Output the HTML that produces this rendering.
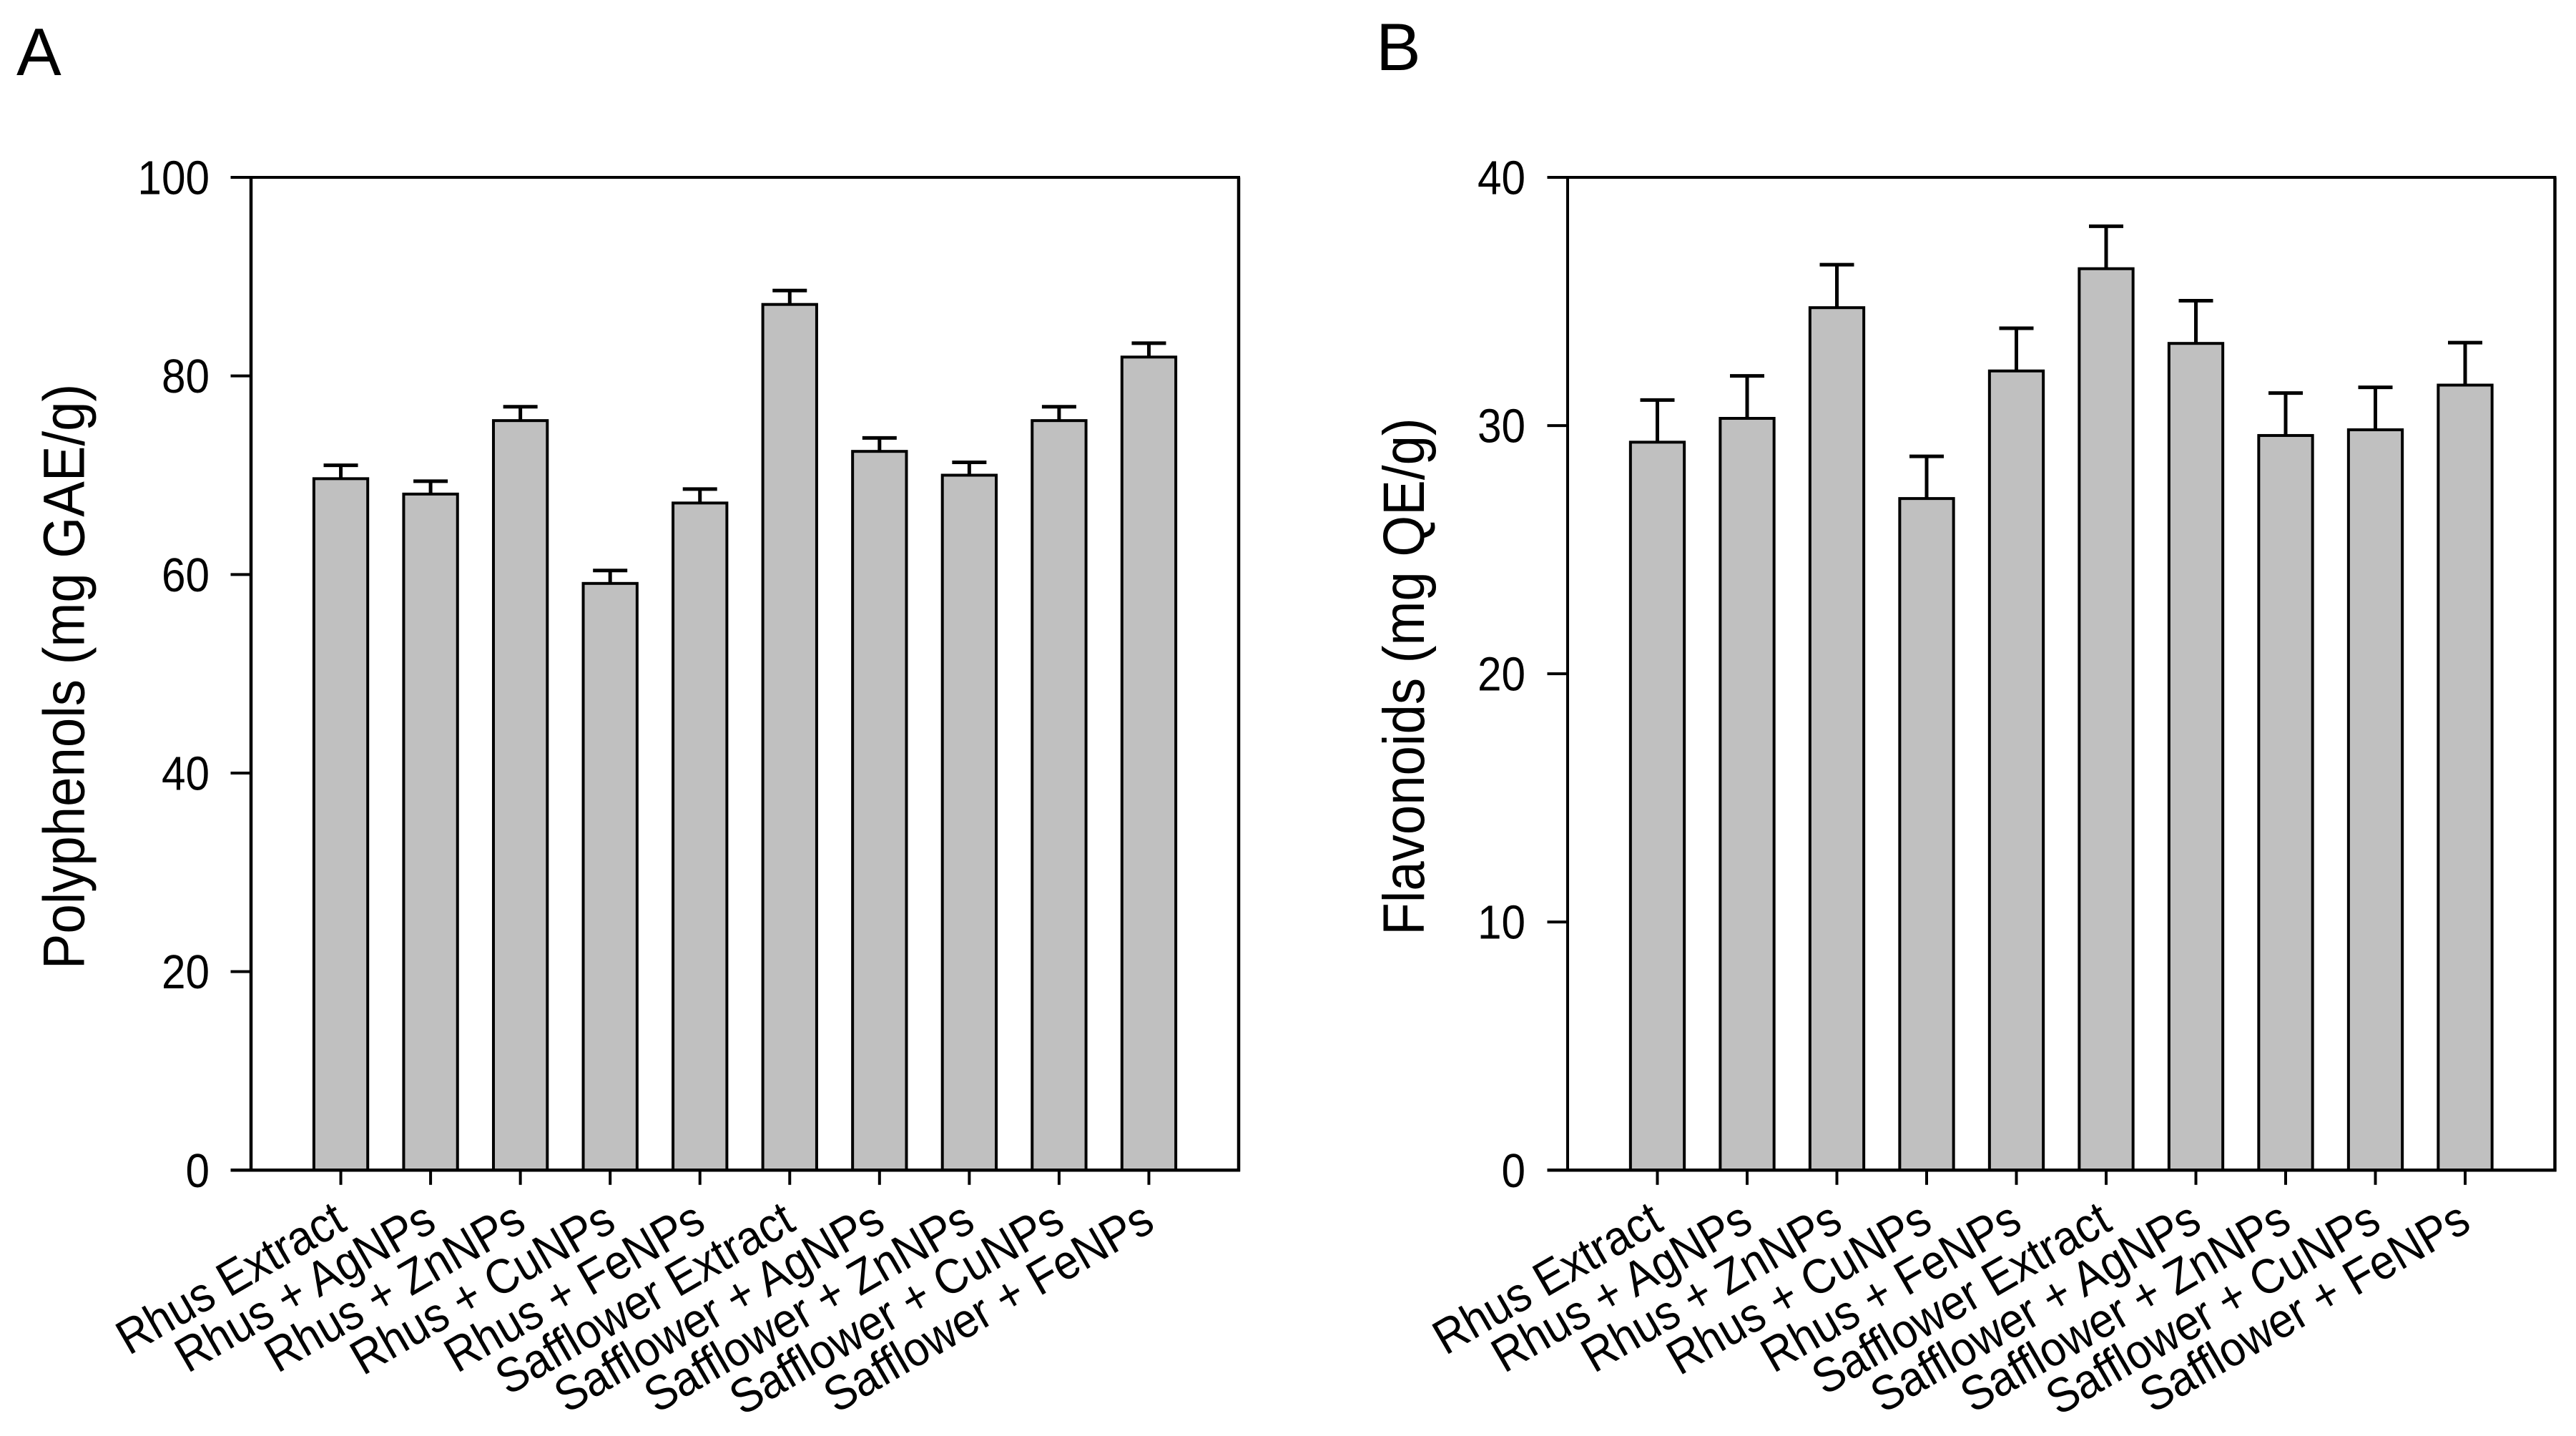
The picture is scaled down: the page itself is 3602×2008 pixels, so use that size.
<!DOCTYPE html>
<html lang="en">
<head>
<meta charset="utf-8">
<title>Polyphenols and flavonoids bar charts</title>
<style>
html,body{margin:0;padding:0;background:#fff;}
body{width:3602px;height:2008px;overflow:hidden;}
svg{display:block;}
text{font-family:"Liberation Sans",Arial,sans-serif;fill:#000;}
</style>
</head>
<body>
<svg id="figure" xmlns="http://www.w3.org/2000/svg" width="3602" height="2008" viewBox="0 0 3602 2008">
  <rect x="0" y="0" width="3602" height="2008" fill="#ffffff"/>
  <text x="23" y="105" font-size="94">A</text>
  <text x="1924" y="98" font-size="94">B</text>
  <g id="panelA"></g>
  <g id="panelB"></g>
</svg>
<script>
const categories = ["Rhus Extract","Rhus + AgNPs","Rhus + ZnNPs","Rhus + CuNPs","Rhus + FeNPs","Safflower Extract","Safflower + AgNPs","Safflower + ZnNPs","Safflower + CuNPs","Safflower + FeNPs"];
const polyphenolValues = [69.65,68.1,75.5,59.1,67.2,87.2,72.4,70.0,75.5,81.9];
const polyphenolErrors = [1.35,1.3,1.4,1.3,1.4,1.4,1.35,1.3,1.4,1.4];
const polyphenolTicks = [0,20,40,60,80,100];
const flavonoidValues = [29.33,30.29,34.75,27.06,32.2,36.32,33.31,29.6,29.83,31.63];
const flavonoidErrors = [1.7,1.71,1.73,1.7,1.72,1.71,1.72,1.71,1.71,1.71];
const flavonoidTicks = [0,10,20,30,40];

const SVG_NS = "http://www.w3.org/2000/svg";

function line(parent, x1, y1, x2, y2, width) {
  const n = document.createElementNS(SVG_NS, "line");
  n.setAttribute("x1", x1);
  n.setAttribute("y1", y1);
  n.setAttribute("x2", x2);
  n.setAttribute("y2", y2);
  n.setAttribute("stroke", "#000");
  n.setAttribute("stroke-width", width);
  n.setAttribute("stroke-linecap", "butt");
  parent.appendChild(n);
  return n;
}

function drawPanel(root, cfg) {
  const xScale = function (i) {
    return cfg.left + (i + 1) * (cfg.right - cfg.left) / (cfg.values.length + 1);
  };
  const yScale = function (v) {
    return cfg.bottom - (v - cfg.min) * (cfg.bottom - cfg.top) / (cfg.max - cfg.min);
  };
  const step = (cfg.right - cfg.left) / (cfg.values.length + 1);
  const barW = step * 0.6;

  cfg.values.forEach(function (v, i) {
    const cx = xScale(i);
    const yTop = yScale(v);
    const yCap = yScale(v + cfg.errors[i]);

    const stem = line(root, cx, yTop, cx, yCap, 5);
    
    

    const cap = line(root, cx - 24, yCap, cx + 24, yCap, 5);
    
    

    const bar = document.createElementNS(SVG_NS, "rect");
    bar.setAttribute("x", cx - barW / 2);
    bar.setAttribute("y", yTop);
    bar.setAttribute("width", barW);
    bar.setAttribute("height", cfg.bottom - yTop);
    bar.setAttribute("fill", "#c0c0c0");
    bar.setAttribute("stroke", "#000");
    bar.setAttribute("stroke-width", 4);
    
    
    root.appendChild(bar);
  });

  const frameTop = line(root, cfg.left - 28.5, cfg.top, cfg.right + 2, cfg.top, 4);
  
  

  const frameRight = line(root, cfg.right, cfg.top, cfg.right, cfg.bottom + 2, 4.5);
  
  

  const yAxis = line(root, cfg.left, cfg.top, cfg.left, cfg.bottom, cfg.axisWidth);
  
  

  const xAxis = line(root, cfg.left - 28.5, cfg.bottom, cfg.right + 2, cfg.bottom, 4.5);
  
  

  cfg.ticks.forEach(function (t) {
    const y = yScale(t);
    const tick = line(root, cfg.left - 28.5, y, cfg.left, y, 4);
    
    

    const label = document.createElementNS(SVG_NS, "text");
    label.setAttribute("text-anchor", "end");
    label.setAttribute("font-size", 67);
    label.setAttribute("transform", "translate(" + (cfg.left - cfg.tickLabelGap) + " " + (y + 23.5) + ") scale(0.9 1)");
    label.textContent = t;
    
    
    root.appendChild(label);
  });

  cfg.labels.forEach(function (name, i) {
    const x = xScale(i);
    const tick = line(root, x, cfg.bottom, x, cfg.bottom + 20.5, 4);
    
    

    const ax = x + 11;
    const ay = cfg.bottom + 82;
    const label = document.createElementNS(SVG_NS, "text");
    label.setAttribute("text-anchor", "end");
    label.setAttribute("font-size", 62);
    label.setAttribute("transform", "translate(" + ax + " " + ay + ") rotate(-30) scale(1 1.1)");
    label.textContent = name;
    
    
    root.appendChild(label);
  });

  const title = document.createElementNS(SVG_NS, "text");
  title.setAttribute("text-anchor", "middle");
  title.setAttribute("font-size", 74.4);
  title.setAttribute("transform", "translate(" + cfg.titleX + " " + cfg.titleY + ") rotate(-90) scale(1 1.1)");
  title.textContent = cfg.title;
  
  
  root.appendChild(title);
}

drawPanel(document.getElementById("panelA"), {
  left: 351, right: 1732, top: 248, bottom: 1636.3, min: 0, max: 100,
  axisWidth: 4.5, tickLabelGap: 58, titleX: 117.5, titleY: 946,
  title: "Polyphenols (mg GAE/g)",
  labels: categories, values: polyphenolValues, errors: polyphenolErrors, ticks: polyphenolTicks
});

drawPanel(document.getElementById("panelB"), {
  left: 2192, right: 3572.5, top: 248, bottom: 1636.3, min: 0, max: 40,
  axisWidth: 4, tickLabelGap: 59, titleX: 1991, titleY: 946,
  title: "Flavonoids (mg QE/g)",
  labels: categories, values: flavonoidValues, errors: flavonoidErrors, ticks: flavonoidTicks
});
</script>
</body>
</html>
